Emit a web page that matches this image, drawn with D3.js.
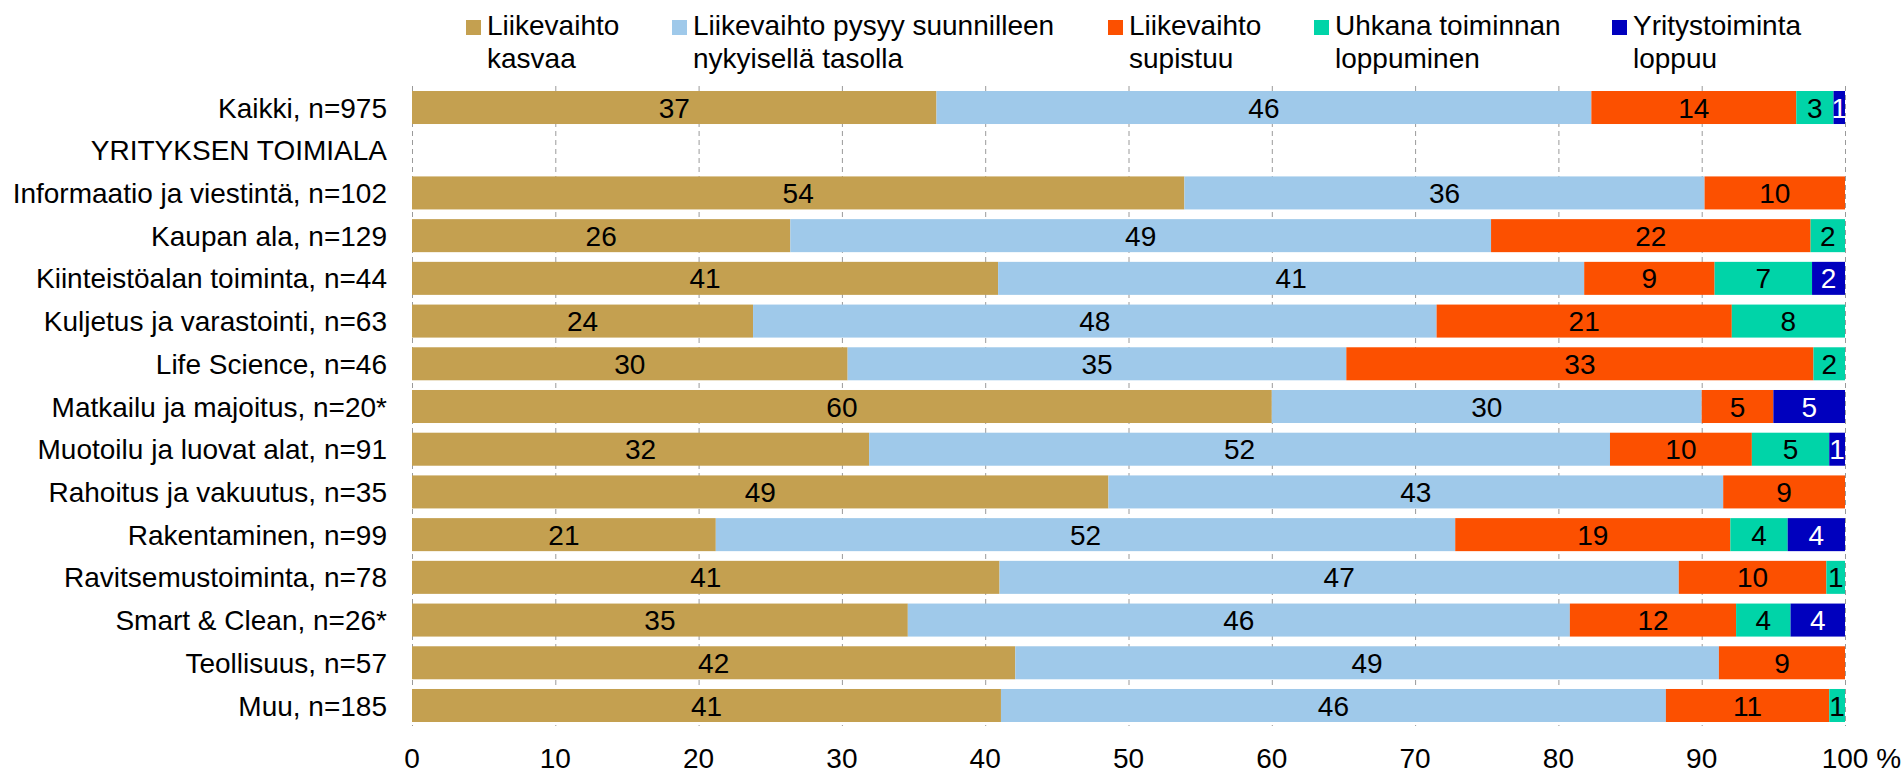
<!DOCTYPE html>
<html>
<head>
<meta charset="utf-8">
<script src="https://cdn.jsdelivr.net/npm/d3@7"></script>
<style>
  html, body { margin: 0; padding: 0; background: #fff; }
  svg { display: block; }
  text { font-family: "Liberation Sans", Arial, sans-serif; }
</style>
</head>
<body>
<svg id="chart" width="1904" height="769"></svg>
<script>
// ---- data ----
const categories = [
  "Kaikki, n=975",
  "YRITYKSEN TOIMIALA",
  "Informaatio ja viestintä, n=102",
  "Kaupan ala, n=129",
  "Kiinteistöalan toiminta, n=44",
  "Kuljetus ja varastointi, n=63",
  "Life Science, n=46",
  "Matkailu ja majoitus, n=20*",
  "Muotoilu ja luovat alat, n=91",
  "Rahoitus ja vakuutus, n=35",
  "Rakentaminen, n=99",
  "Ravitsemustoiminta, n=78",
  "Smart & Clean, n=26*",
  "Teollisuus, n=57",
  "Muu, n=185"
];
const seriesKeys = ["kasvaa", "pysyy", "supistuu", "uhkana", "loppuu"];
const seriesLegend = [
  ["Liikevaihto", "kasvaa"],
  ["Liikevaihto pysyy suunnilleen", "nykyisellä tasolla"],
  ["Liikevaihto", "supistuu"],
  ["Uhkana toiminnan", "loppuminen"],
  ["Yritystoiminta", "loppuu"]
];
const seriesColors = ["#C4A050", "#9FC9EA", "#FC5000", "#00D4A8", "#0000BE"];
const labelColors = ["#000", "#000", "#000", "#000", "#fff"];

const kasvaa   = [36.6, null, 53.9, 26.4, 40.9, 23.8, 30.4, 60, 31.9, 48.6, 21.2, 41.0, 34.6, 42.1, 41.1];
const pysyy    = [45.7, null, 36.3, 48.9, 40.9, 47.7, 34.8, 30, 51.7, 42.9, 51.6, 47.4, 46.2, 49.1, 46.4];
const supistuu = [14.3, null,  9.8, 22.3,  9.1, 20.6, 32.6,  5,  9.9,  8.5, 19.2, 10.3, 11.6,  8.8, 11.4];
const uhkana   = [ 2.6, null,  0,    2.4,  6.8,  7.9,  2.2,  0,  5.4,  0,    4.0,  1.3,  3.8,  0,    1.1];
const loppuu   = [ 0.8, null,  0,    0,    2.3,  0,    0,    5,  1.1,  0,    4.0,  0,    3.8,  0,    0];

const xTicks = [0, 10, 20, 30, 40, 50, 60, 70, 80, 90, 100];

// ---- build table ----
const seriesValues = [kasvaa, pysyy, supistuu, uhkana, loppuu];
const table = categories.map((c, i) => {
  const row = { cat: c };
  seriesKeys.forEach((k, j) => { row[k] = seriesValues[j][i] || 0; });
  return row;
});

const FONT = 28;
const svg = d3.select("#chart");

const x = d3.scaleLinear().domain([0, 100]).range([412, 1845]);
const y = d3.scaleBand().domain(categories).range([86, 727])
  .paddingInner(0.227).paddingOuter(0.117);

// gridlines
svg.append("g").selectAll("line").data(xTicks).join("line")
  .attr("x1", d => x(d) + 0.5).attr("x2", d => x(d) + 0.5)
  .attr("y1", 86).attr("y2", 726)
  .attr("stroke", "#9a9a9a").attr("stroke-width", 1)
  .attr("stroke-dasharray", "5,4");

// bars
const stack = d3.stack().keys(seriesKeys);
const stacked = stack(table);
const gBars = svg.append("g");
stacked.forEach((layer, si) => {
  const g = gBars.append("g");
  g.selectAll("rect").data(layer.filter(d => d[1] - d[0] > 0)).join("rect")
    .attr("x", d => x(d[0]))
    .attr("y", d => y(d.data.cat))
    .attr("width", d => x(d[1]) - x(d[0]))
    .attr("height", y.bandwidth())
    .attr("fill", seriesColors[si]);
  g.selectAll("text").data(layer.filter(d => d[1] - d[0] > 0)).join("text")
    .attr("x", d => (x(d[0]) + x(d[1])) / 2)
    .attr("y", d => y(d.data.cat) + y.bandwidth() / 2)
    .attr("dy", "0.36em")
    .attr("text-anchor", "middle")
    .attr("font-size", FONT)
    .attr("fill", labelColors[si])
    .text(d => Math.round(d[1] - d[0]));
});

// y axis labels
svg.append("g").selectAll("text").data(categories).join("text")
  .attr("x", 387)
  .attr("y", d => y(d) + y.bandwidth() / 2)
  .attr("dy", "0.36em")
  .attr("text-anchor", "end")
  .attr("font-size", FONT)
  .attr("fill", "#000")
  .text(d => d);

// x axis labels
const xl = svg.append("g").selectAll("text").data(xTicks).join("text")
  .attr("x", d => x(d))
  .attr("y", 768)
  .attr("text-anchor", "middle")
  .attr("font-size", FONT)
  .attr("fill", "#000")
  .text(d => d);
// percent sign after the last tick label
const lastLbl = xl.filter(d => d === 100).node();
const w100 = lastLbl.getComputedTextLength();
svg.append("text")
  .attr("x", x(100) + w100 / 2)
  .attr("y", 768)
  .attr("font-size", FONT)
  .attr("fill", "#000")
  .attr("xml:space", "preserve")
  .text(" %");

// legend
const legendX = [466, 672, 1108, 1314, 1612];
const lg = svg.append("g");
seriesLegend.forEach((lines, i) => {
  lg.append("rect")
    .attr("x", legendX[i]).attr("y", 20)
    .attr("width", 15).attr("height", 15)
    .attr("fill", seriesColors[i]);
  lines.forEach((t, li) => {
    lg.append("text")
      .attr("x", legendX[i] + 21)
      .attr("y", 35 + li * 33)
      .attr("font-size", FONT)
      .attr("fill", "#000")
      .text(t);
  });
});
</script>
</body>
</html>
